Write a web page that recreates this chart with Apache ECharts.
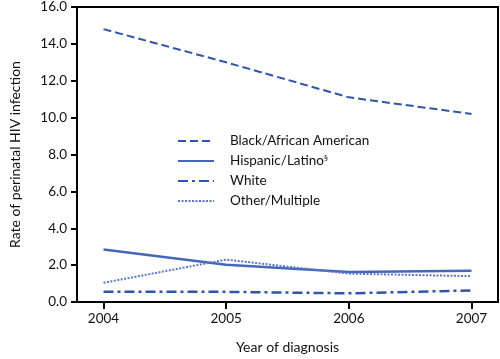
<!DOCTYPE html>
<html><head><meta charset="utf-8">
<script src="https://cdn.jsdelivr.net/npm/echarts@6/dist/echarts.min.js"></script>
<style>html,body{margin:0;padding:0;background:#fff}#c{width:500px;height:359px}</style>
</head><body><div id="c"></div>
<script>
const years = [2004, 2005, 2006, 2007];
const yTicks = [0, 2, 4, 6, 8, 10, 12, 14, 16];
const black = [14.8, 13.0, 11.1, 10.2];
const hispanic = [2.85, 2.02, 1.63, 1.70];
const white = [0.55, 0.55, 0.47, 0.63];
const other = [1.04, 2.3, 1.54, 1.40];
const names = ['Black/African American', 'Hispanic/Latino§', 'White', 'Other/Multiple'];

const font = 'Lato, "Open Sans", sans-serif';
function pairs(arr){ return years.map((y,i)=>[y, arr[i]]); }
function mk(name, data, color, type, width){
  return {name, type:'line', data:pairs(data), symbol:'none', smooth:false,
    lineStyle:{color, width, type}, itemStyle:{color}};
}
const chart = echarts.init(document.getElementById('c'));
chart.setOption({
  animation:false,
  grid:{left:69, right:2, top:4, bottom:57, show:true, borderColor:'#000', borderWidth:2},
  xAxis:{type:'value', min:2003.784, max:2007.216,
    name:'Year of diagnosis', nameLocation:'middle', nameGap:38,
    nameTextStyle:{fontFamily:font, fontSize:14, color:'#111'},
    axisLine:{lineStyle:{color:'#000', width:2}},
    axisTick:{customValues:years, length:7, lineStyle:{color:'#000', width:2}},
    axisLabel:{customValues:years, fontFamily:font, fontSize:13.5, color:'#111', margin:10, formatter:v=>String(v)},
    splitLine:{show:false}},
  yAxis:{type:'value', min:0, max:16, interval:2,
    name:'Rate of perinatal HIV infection', nameLocation:'middle', nameGap:55,
    nameTextStyle:{fontFamily:font, fontSize:14, color:'#111'},
    axisLine:{show:true, lineStyle:{color:'#000', width:2}},
    axisTick:{show:true, length:6, lineStyle:{color:'#000', width:2}},
    axisLabel:{fontFamily:font, fontSize:13.5, color:'#111', margin:10, formatter:v=>v.toFixed(1)},
    splitLine:{show:false}},
  legend:{orient:'vertical', left:172, top:129, itemWidth:36, itemHeight:12, itemGap:6,
    data:names, itemStyle:{opacity:0},
    textStyle:{fontFamily:font, fontSize:13.5, color:'#111', padding:[0,0,0,11],
      rich:{sup:{fontSize:8, verticalAlign:'top', padding:[0,0,6,0], fontFamily:font, color:'#111'}}},
    formatter:n=> n.endsWith('§') ? n.slice(0,-1)+'{sup|§}' : n},
  series:[
    mk(names[0], black, '#2f55ad', [8,4], 2),
    mk(names[1], hispanic, '#4466bb', 'solid', 2.5),
    mk(names[2], white, '#2f55ad', [10,4,3,4], 2.5),
    mk(names[3], other, '#5a78c4', [2,1.5], 2)
  ]
});
</script></body></html>
